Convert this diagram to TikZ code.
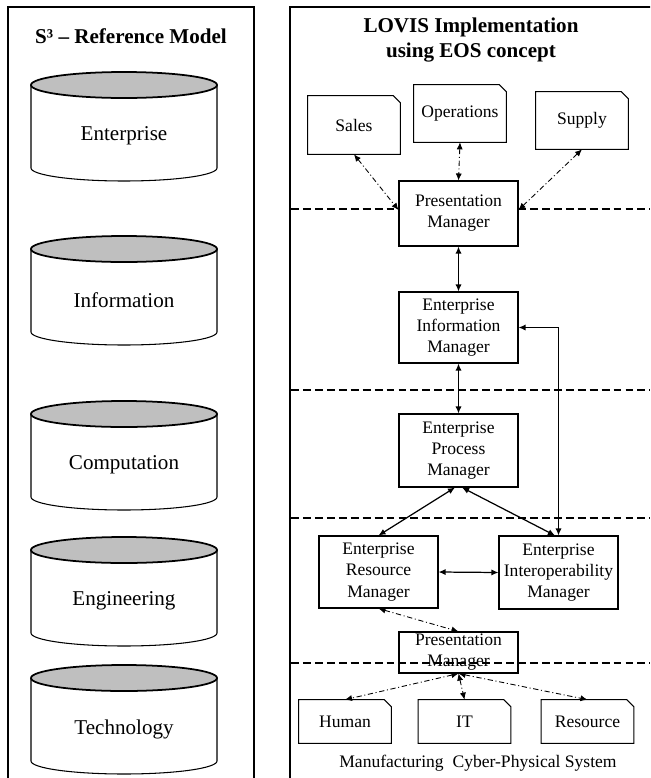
\documentclass[tikz,border=0pt]{standalone}
\usepackage{fontspec}
\setmainfont{Liberation Serif}
\usetikzlibrary{arrows.meta}
\tikzset{
  box/.style={draw, fill=white, line width=0.6pt, align=center, inner sep=0pt,
    minimum width=2.38cm, font=\fontsize{10}{12}\selectfont},
  doc/.style={align=center, inner sep=0pt, minimum width=1.84cm,
    font=\fontsize{10}{12}\selectfont},
  cyltext/.style={font=\fontsize{12}{14}\selectfont},
  titletext/.style={align=center, font=\fontsize{12}{14}\selectfont\bfseries},
  layerline/.style={dash pattern=on 4.5pt off 2.3pt, line width=0.6pt},
  solidarrow/.style={{Latex[length=4pt,width=3.5pt]}-{Latex[length=4pt,width=3.5pt]}, line width=0.7pt},
  ddarrow/.style={solidarrow, line width=0.5pt, dash pattern=on 3pt off 1.5pt on 0.6pt off 1.5pt},
}
\begin{document}
\begin{tikzpicture}[x=0.02cm,y=-0.02cm]
    \useasboundingbox (0,0) rectangle (650,778);
    \clip (0,0) rectangle (650,778);
    % panels
    \draw[line width=0.8pt] (8,7) rectangle (254,800);
    \draw[line width=0.8pt] (290,7) rectangle (670,800);
    \node[titletext] (lefttitle) at (131,36) {S³ -- Reference Model};
    \node[titletext] (righttitle) at (471,40) {LOVIS Implementation\\using EOS concept};
    % reference model layers
    \foreach \yt/\lbl in {85/Enterprise,249/Information,414/Computation,550/Engineering,678/Technology}{
        \draw[line width=0.6pt, fill=white] (31,\yt) -- (31,\yt+83) arc (180:0:93 and 13) -- (217,\yt);
        \draw[line width=1pt, fill=gray!50] (124,\yt) ellipse (93 and 13);
        \node[cyltext] at (124,\yt+51) {\lbl};
    }
    % layer separators
    \foreach \y in {209,390,518}
        \draw[layerline] (291,\y) -- (650,\y);
    % documents
    \node[doc, minimum height=1.16cm] (sales) at (354,125) {Sales};
    \node[doc, minimum height=1.14cm] (ops) at (460,113.5) {Operations};
    \node[doc, minimum height=1.14cm] (supply) at (582,120.5) {Supply};
    \node[doc, minimum height=0.86cm] (human) at (345,721.5) {Human};
    \node[doc, minimum height=0.86cm] (it) at (464.5,721.5) {IT};
    \node[doc, minimum height=0.86cm] (res) at (587.5,721.5) {Resource};
    \foreach \d in {sales,ops,supply,human,it,res}
        \draw[line width=0.6pt] (\d.south west) -- (\d.north west) -- ([xshift=-4pt]\d.north east)
            -- ([yshift=-4pt]\d.north east) -- (\d.south east) -- cycle;
    % managers
    \node[box, minimum height=1.3cm] (pmtop) at (458.5,213.5) {Presentation\\Manager};
    \node[box, minimum height=1.42cm] (eim) at (458.5,327.5) {Enterprise\\Information\\Manager};
    \node[box, minimum height=1.46cm] (epm) at (458.5,450.5) {Enterprise\\Process\\Manager};
    \node[box, minimum height=1.44cm] (erm) at (378.5,572) {Enterprise\\Resource\\Manager};
    \node[box, minimum height=1.46cm] (eintm) at (558.5,572.5) {Enterprise\\Interoperability\\Manager};
    \node[box, minimum height=0.82cm] (pmbot) at (458.5,652.5) {Presentation\\Manager};
    \draw[layerline] (291,663) -- (650,663);
    % connectors
    \draw[ddarrow] (sales.south) -- ([yshift=2pt]pmtop.west);
    \draw[ddarrow] (ops.south) -- (pmtop.north);
    \draw[ddarrow] (supply.south) -- ([yshift=2pt]pmtop.east);
    \draw[solidarrow] (pmtop.south) -- (eim.north);
    \draw[solidarrow] (eim.south) -- (epm.north);
    \draw[solidarrow] ([xshift=-2pt]epm.south) -- (erm.north);
    \draw[solidarrow] ([xshift=2pt]epm.south) -- ([xshift=-2pt]eintm.north);
    \draw[solidarrow] (eim.east) -| (eintm.north);
    \draw[solidarrow] (erm.east) -- (eintm.west);
    \draw[ddarrow] (erm.south) -- (pmbot.north);
    \draw[ddarrow] (pmbot.south) -- (human.north);
    \draw[ddarrow] (pmbot.south) -- (it.north);
    \draw[ddarrow] (pmbot.south) -- (res.north);
    \node[font=\fontsize{10}{12}\selectfont] (mcps) at (478,763) {Manufacturing\ \ Cyber-Physical System};
\end{tikzpicture}
\end{document}
